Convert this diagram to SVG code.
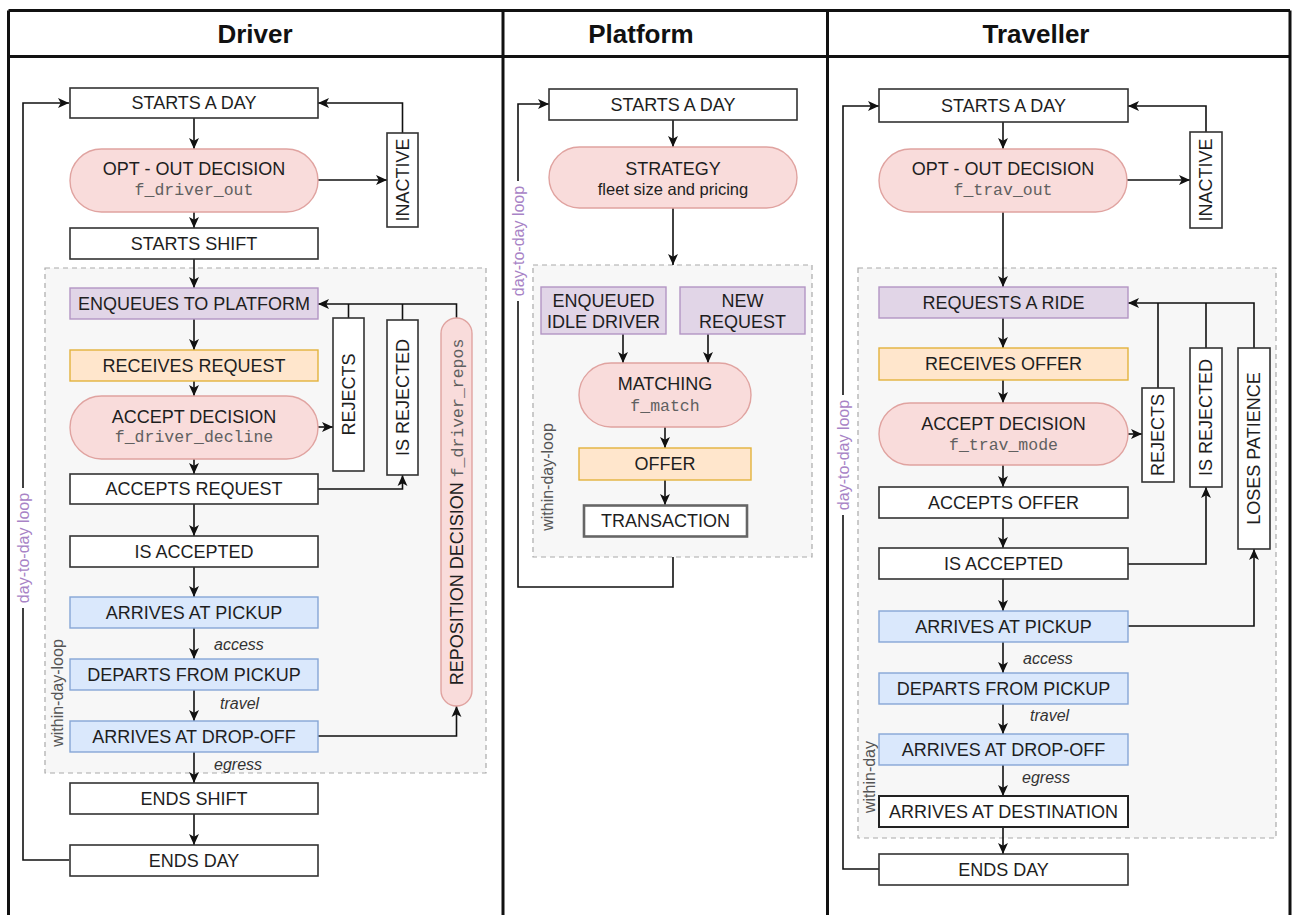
<svg xmlns="http://www.w3.org/2000/svg" width="1292" height="915" viewBox="0 0 1292 915">
<style>
.frame{fill:none;stroke:#111;stroke-width:3}
.hdr{font-family:"Liberation Sans",Arial,sans-serif;font-weight:bold;font-size:26px;fill:#111;text-anchor:middle}
.box{fill:#fff;stroke:#333;stroke-width:1.6}
.pill{fill:#f9dcdb;stroke:#e0a3a0;stroke-width:1.4}
.pur{fill:#e1d5e7;stroke:#b395c4;stroke-width:1.4}
.org{fill:#ffe6cc;stroke:#e3b23c;stroke-width:1.4}
.blu{fill:#dae8fc;stroke:#86a6d6;stroke-width:1.4}
.region{fill:#f7f7f7;stroke:#aaa;stroke-width:1.2;stroke-dasharray:5 4}
.t{font-family:"Liberation Sans",Arial,sans-serif;font-size:18px;fill:#1e1e1e;text-anchor:middle}
.ts{font-family:"Liberation Sans",Arial,sans-serif;font-size:16.5px;fill:#1e1e1e;text-anchor:middle}
.m{font-family:"Liberation Mono","Courier New",monospace;font-size:16.5px;fill:#606060}
.mt{font-family:"Liberation Mono","Courier New",monospace;font-size:16.5px;fill:#606060;text-anchor:middle}
.it{font-family:"Liberation Sans",Arial,sans-serif;font-size:16px;font-style:italic;fill:#333}
.loop{font-family:"Liberation Sans",Arial,sans-serif;font-size:16px;fill:#a883c6;text-anchor:middle}
.wd{font-family:"Liberation Sans",Arial,sans-serif;font-size:16px;fill:#555;text-anchor:middle}
.c{fill:none;stroke:#111;stroke-width:1.6;marker-end:url(#arr)}
.cn{fill:none;stroke:#111;stroke-width:1.6}
</style>
<defs>
<marker id="arr" viewBox="0 0 10 10" refX="10" refY="5" markerWidth="11" markerHeight="11" markerUnits="userSpaceOnUse" orient="auto">
<path d="M0,0.5 L10,5 L0,9.5 L2.5,5 z" fill="#111"/>
</marker>
</defs>
<rect width="1292" height="915" fill="#fff"/>

<!-- frame -->
<g id="frame">
<line class="frame" x1="8.5" y1="10.5" x2="1290" y2="10.5"/>
<line class="frame" x1="8.5" y1="56.5" x2="1290" y2="56.5"/>
<line class="frame" x1="8.5" y1="10.5" x2="8.5" y2="915"/>
<line class="frame" x1="503" y1="10.5" x2="503" y2="915"/>
<line class="frame" x1="827.5" y1="10.5" x2="827.5" y2="915"/>
<line class="frame" x1="1290" y1="10.5" x2="1290" y2="915"/>
<text class="hdr" x="255" y="43">Driver</text>
<text class="hdr" x="641" y="43">Platform</text>
<text class="hdr" x="1036" y="43">Traveller</text>
</g>

<!-- regions -->
<g id="regions">
<rect class="region" x="45" y="268" width="441" height="505"/>
<rect class="region" x="533" y="265" width="279" height="292"/>
<rect class="region" x="858" y="268" width="418" height="570"/>
<text class="wd" transform="rotate(-90 57 693)" x="57" y="698.5">within-day-loop</text>
<text class="wd" transform="rotate(-90 547 477)" x="547" y="482.5">within-day-loop</text>
<text class="wd" transform="rotate(-90 869 777)" x="869" y="782.5">within-day</text>
</g>

<!-- connectors -->
<g id="connectors">
<!-- Driver chain -->
<line class="c" x1="194" y1="118" x2="194" y2="149"/>
<line class="c" x1="194" y1="212" x2="194" y2="228"/>
<line class="c" x1="194" y1="259" x2="194" y2="288"/>
<line class="c" x1="194" y1="319" x2="194" y2="350"/>
<line class="c" x1="194" y1="381" x2="194" y2="396"/>
<line class="c" x1="194" y1="459" x2="194" y2="474"/>
<line class="c" x1="194" y1="504" x2="194" y2="536"/>
<line class="c" x1="194" y1="567" x2="194" y2="597"/>
<line class="c" x1="194" y1="628" x2="194" y2="659"/>
<line class="c" x1="194" y1="690" x2="194" y2="721"/>
<line class="c" x1="194" y1="752" x2="194" y2="783"/>
<line class="c" x1="194" y1="814" x2="194" y2="845"/>
<line class="c" x1="318" y1="180" x2="387" y2="180"/>
<polyline class="c" points="402.5,133 402.5,103 318,103"/>
<polyline class="c" points="456.5,318 456.5,304 318,304"/>
<line class="cn" x1="348.5" y1="318" x2="348.5" y2="304"/>
<line class="cn" x1="402.5" y1="320" x2="402.5" y2="304"/>
<line class="c" x1="318" y1="427" x2="333" y2="427"/>
<polyline class="c" points="318,489 402.5,489 402.5,475"/>
<polyline class="c" points="318,736 456.5,736 456.5,706"/>
<polyline class="c" points="69,860 23,860 23,103 69,103"/>
<!-- Platform -->
<line class="c" x1="673" y1="120" x2="673" y2="147"/>
<line class="c" x1="673" y1="208" x2="673" y2="265"/>
<line class="c" x1="623" y1="334" x2="623" y2="363"/>
<line class="c" x1="708" y1="334" x2="708" y2="363"/>
<line class="c" x1="665" y1="416" x2="665" y2="448"/>
<line class="c" x1="665" y1="480" x2="665" y2="505"/>
<polyline class="c" points="673,557 673,587 518,587 518,104 549,104"/>
<!-- Traveller -->
<line class="c" x1="1003" y1="122" x2="1003" y2="149"/>
<line class="c" x1="1003" y1="212" x2="1003" y2="287"/>
<line class="c" x1="1003" y1="318" x2="1003" y2="348"/>
<line class="c" x1="1003" y1="380" x2="1003" y2="403"/>
<line class="c" x1="1003" y1="465" x2="1003" y2="487"/>
<line class="c" x1="1003" y1="518" x2="1003" y2="548"/>
<line class="c" x1="1003" y1="579" x2="1003" y2="611"/>
<line class="c" x1="1003" y1="642" x2="1003" y2="673"/>
<line class="c" x1="1003" y1="704" x2="1003" y2="734"/>
<line class="c" x1="1003" y1="765" x2="1003" y2="796"/>
<line class="c" x1="1003" y1="827" x2="1003" y2="854"/>
<line class="c" x1="1127" y1="180" x2="1190" y2="180"/>
<polyline class="c" points="1206,132 1206,106 1128,106"/>
<polyline class="c" points="1254,348 1254,303 1128,303"/>
<line class="cn" x1="1158" y1="388" x2="1158" y2="303"/>
<line class="cn" x1="1206" y1="348" x2="1206" y2="303"/>
<line class="c" x1="1128" y1="434" x2="1142" y2="434"/>
<polyline class="c" points="1128,564 1206,564 1206,487"/>
<polyline class="c" points="1128,626 1254,626 1254,549"/>
<polyline class="c" points="879,869 843,869 843,106 879,106"/>
<!-- loop labels -->
<rect x="13" y="488" width="20" height="120" fill="#fff"/>
<text class="loop" transform="rotate(-90 23 548)" x="23" y="553.5">day-to-day loop</text>
<rect x="508" y="181" width="20" height="120" fill="#fff"/>
<text class="loop" transform="rotate(-90 518 241)" x="518" y="246.5">day-to-day loop</text>
<rect x="833" y="395" width="20" height="120" fill="#fff"/>
<text class="loop" transform="rotate(-90 843 455)" x="843" y="460.5">day-to-day loop</text>
<!-- leg labels -->
<text class="it" x="214" y="650">access</text>
<text class="it" x="220" y="709">travel</text>
<text class="it" x="214" y="770">egress</text>
<text class="it" x="1023" y="664">access</text>
<text class="it" x="1030" y="721">travel</text>
<text class="it" x="1022" y="783">egress</text>
</g>

<!-- Driver nodes -->
<g id="d-start"><rect class="box" x="70" y="88" width="248" height="30"/><text class="t" x="194" y="109.4">STARTS A DAY</text></g>
<g id="d-optout"><rect class="pill" x="70" y="149" width="248" height="63" rx="31.5"/><text class="t" x="194" y="175">OPT - OUT DECISION</text><text class="mt" x="194" y="195">f_driver_out</text></g>
<g id="d-inactive"><rect class="box" x="387" y="133" width="31" height="94"/><text class="t" transform="rotate(-90 402.5 180)" x="402.5" y="186.4">INACTIVE</text></g>
<g id="d-shift"><rect class="box" x="70" y="228" width="248" height="31"/><text class="t" x="194" y="249.9">STARTS SHIFT</text></g>
<g id="d-enqueue"><rect class="pur" x="70" y="288" width="248" height="31"/><text class="t" x="194" y="309.9">ENQUEUES TO PLATFORM</text></g>
<g id="d-receives"><rect class="org" x="70" y="350" width="248" height="31"/><text class="t" x="194" y="371.9">RECEIVES REQUEST</text></g>
<g id="d-accept"><rect class="pill" x="70" y="396" width="248" height="63" rx="31.5"/><text class="t" x="194" y="423">ACCEPT DECISION</text><text class="mt" x="194" y="442">f_driver_decline</text></g>
<g id="d-rejects"><rect class="box" x="333" y="318" width="31" height="153"/><text class="t" transform="rotate(-90 348.5 394.5)" x="348.5" y="400.9">REJECTS</text></g>
<g id="d-isrejected"><rect class="box" x="387" y="320" width="31" height="155"/><text class="t" transform="rotate(-90 402.5 397.5)" x="402.5" y="403.9">IS REJECTED</text></g>
<g id="d-repos"><rect class="pill" x="441" y="318" width="31" height="388" rx="15.5"/><text class="t" transform="rotate(-90 456.5 512)" x="456.5" y="518.4">REPOSITION DECISION <tspan class="m">f_driver_repos</tspan></text></g>
<g id="d-acceptsreq"><rect class="box" x="70" y="474" width="248" height="30"/><text class="t" x="194" y="495.4">ACCEPTS REQUEST</text></g>
<g id="d-isaccepted"><rect class="box" x="70" y="536" width="248" height="31"/><text class="t" x="194" y="557.9">IS ACCEPTED</text></g>
<g id="d-pickup"><rect class="blu" x="70" y="597" width="248" height="31"/><text class="t" x="194" y="618.9">ARRIVES AT PICKUP</text></g>
<g id="d-departs"><rect class="blu" x="70" y="659" width="248" height="31"/><text class="t" x="194" y="680.9">DEPARTS FROM PICKUP</text></g>
<g id="d-dropoff"><rect class="blu" x="70" y="721" width="248" height="31"/><text class="t" x="194" y="742.9">ARRIVES AT DROP-OFF</text></g>
<g id="d-endshift"><rect class="box" x="70" y="783" width="248" height="31"/><text class="t" x="194" y="804.9">ENDS SHIFT</text></g>
<g id="d-endday"><rect class="box" x="70" y="845" width="248" height="31"/><text class="t" x="194" y="866.9">ENDS DAY</text></g>

<!-- Platform nodes -->
<g id="p-start"><rect class="box" x="549" y="89" width="248" height="31"/><text class="t" x="673" y="110.9">STARTS A DAY</text></g>
<g id="p-strategy"><rect class="pill" x="549" y="147" width="248" height="61" rx="30.5"/><text class="t" x="673" y="175">STRATEGY</text><text class="ts" x="673" y="195">fleet size and pricing</text></g>
<g id="p-idle"><rect class="pur" x="541" y="287" width="125" height="47"/><text class="t" x="603.5" y="307">ENQUEUED</text><text class="t" x="603.5" y="328">IDLE DRIVER</text></g>
<g id="p-newreq"><rect class="pur" x="680" y="287" width="125" height="47"/><text class="t" x="742.5" y="307">NEW</text><text class="t" x="742.5" y="328">REQUEST</text></g>
<g id="p-matching"><rect class="pill" x="579" y="363" width="172" height="64" rx="32"/><text class="t" x="665" y="389.5">MATCHING</text><text class="mt" x="665" y="411">f_match</text></g>
<g id="p-offer"><rect class="org" x="579" y="448" width="172" height="32"/><text class="t" x="665" y="470.4">OFFER</text></g>
<g id="p-transaction"><rect x="584" y="505.5" width="163" height="31" fill="#fff" stroke="#666" stroke-width="2.6"/><text class="t" x="665.5" y="527.4">TRANSACTION</text></g>

<!-- Traveller nodes -->
<g id="t-start"><rect class="box" x="879" y="89" width="249" height="33"/><text class="t" x="1003.5" y="111.9">STARTS A DAY</text></g>
<g id="t-optout"><rect class="pill" x="879" y="149" width="248" height="63" rx="31.5"/><text class="t" x="1003" y="175">OPT - OUT DECISION</text><text class="mt" x="1003" y="195">f_trav_out</text></g>
<g id="t-inactive"><rect class="box" x="1190" y="132" width="32" height="96"/><text class="t" transform="rotate(-90 1206 180)" x="1206" y="186.4">INACTIVE</text></g>
<g id="t-requests"><rect class="pur" x="879" y="287" width="249" height="31"/><text class="t" x="1003.5" y="308.9">REQUESTS A RIDE</text></g>
<g id="t-receives"><rect class="org" x="879" y="348" width="249" height="32"/><text class="t" x="1003.5" y="370.4">RECEIVES OFFER</text></g>
<g id="t-accept"><rect class="pill" x="879" y="403" width="249" height="62" rx="31"/><text class="t" x="1003.5" y="430">ACCEPT DECISION</text><text class="mt" x="1003.5" y="450">f_trav_mode</text></g>
<g id="t-rejects"><rect class="box" x="1142" y="388" width="32" height="94"/><text class="t" transform="rotate(-90 1158 435)" x="1158" y="441.4">REJECTS</text></g>
<g id="t-isrejected"><rect class="box" x="1190" y="348" width="32" height="139"/><text class="t" transform="rotate(-90 1206 417.5)" x="1206" y="423.9">IS REJECTED</text></g>
<g id="t-patience"><rect class="box" x="1238" y="348" width="32" height="201"/><text class="t" transform="rotate(-90 1254 448.5)" x="1254" y="454.9">LOSES PATIENCE</text></g>
<g id="t-acceptsoffer"><rect class="box" x="879" y="487" width="249" height="31"/><text class="t" x="1003.5" y="508.9">ACCEPTS OFFER</text></g>
<g id="t-isaccepted"><rect class="box" x="879" y="548" width="249" height="31"/><text class="t" x="1003.5" y="569.9">IS ACCEPTED</text></g>
<g id="t-pickup"><rect class="blu" x="879" y="611" width="249" height="31"/><text class="t" x="1003.5" y="632.9">ARRIVES AT PICKUP</text></g>
<g id="t-departs"><rect class="blu" x="879" y="673" width="249" height="31"/><text class="t" x="1003.5" y="694.9">DEPARTS FROM PICKUP</text></g>
<g id="t-dropoff"><rect class="blu" x="879" y="734" width="249" height="31"/><text class="t" x="1003.5" y="755.9">ARRIVES AT DROP-OFF</text></g>
<g id="t-destination"><rect x="879" y="796" width="249" height="31" fill="#fff" stroke="#222" stroke-width="2"/><text class="t" x="1003.5" y="817.9">ARRIVES AT DESTINATION</text></g>
<g id="t-endday"><rect class="box" x="879" y="854" width="249" height="31"/><text class="t" x="1003.5" y="875.9">ENDS DAY</text></g>
</svg>
